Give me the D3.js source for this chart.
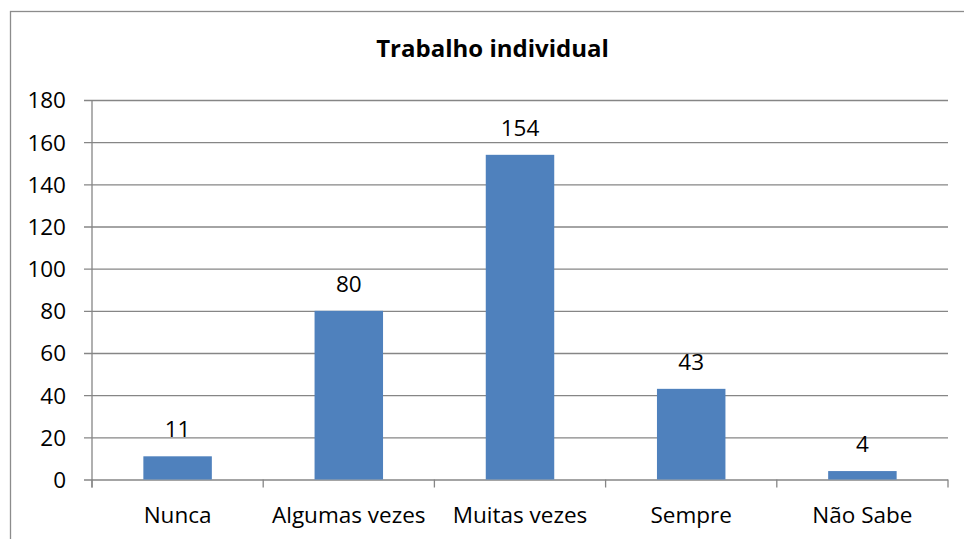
<!DOCTYPE html>
<html>
<head>
<meta charset="utf-8">
<script src="https://cdn.jsdelivr.net/npm/d3@7"></script>
<style>
  html, body { margin: 0; padding: 0; background: #fff; }
  svg { display: block; }
  text { font-family: "Open Sans", "Noto Sans", sans-serif; fill: #000; }
</style>
</head>
<body>
<svg id="chart" width="964" height="539"></svg>
<script>
// Survey answers for "Trabalho individual"
const categories = ["Nunca", "Algumas vezes", "Muitas vezes", "Sempre", "Não Sabe"];
const counts = [11, 80, 154, 43, 4];
const yTicks = [0, 20, 40, 60, 80, 100, 120, 140, 160, 180];
const title = "Trabalho individual";

const svg = d3.select("#chart");
const plot = { left: 92, right: 948, top: 100, bottom: 479.5 };
const FONT = 22.5;

// Outer chart frame
svg.append("rect")
  .attr("x", 10.5).attr("y", 11.5)
  .attr("width", 964).attr("height", 539)
  .attr("fill", "none").attr("stroke", "#8c8c8c").attr("stroke-width", 1.3);

svg.append("text")
  .attr("x", 492.5).attr("y", 57)
  .attr("text-anchor", "middle")
  .attr("font-weight", "bold")
  .attr("font-size", 24)
  .text(title);

const x = d3.scaleBand().domain(categories)
  .range([plot.left, plot.right]).paddingInner(0.6).paddingOuter(0.3);
const xBand = d3.scaleBand().domain(categories).range([plot.left, plot.right]);
const y = d3.scaleLinear().domain([0, 180]).range([plot.bottom, plot.top]);

// Horizontal gridlines with left tick marks
const yAxis = d3.axisLeft(y).tickValues(yTicks)
  .tickSize(-(plot.right - plot.left)).tickPadding(26).tickSizeOuter(0);
const gy = svg.append("g").attr("transform", `translate(${plot.left},0)`).call(yAxis);
gy.select(".domain").remove();
gy.selectAll(".tick line")
  .attr("x1", -8)
  .attr("stroke", "#868686").attr("stroke-width", 1.3);
gy.selectAll(".tick text").attr("font-size", FONT).attr("dy", "0.35em")
  .style("font-family", "'Open Sans', 'Noto Sans', sans-serif");

// Vertical axis line
svg.append("line")
  .attr("x1", plot.left).attr("x2", plot.left)
  .attr("y1", plot.top).attr("y2", plot.bottom + 8)
  .attr("stroke", "#868686").attr("stroke-width", 1.3);

// Category boundary ticks under the baseline
const bounds = categories.map(c => xBand(c)).concat([plot.right]);
svg.append("g").selectAll("line").data(bounds).join("line")
  .attr("x1", d => d).attr("x2", d => d)
  .attr("y1", plot.bottom).attr("y2", plot.bottom + 8)
  .attr("stroke", "#868686").attr("stroke-width", 1.3);

// Bars
svg.append("g").selectAll("rect").data(counts).join("rect")
  .attr("x", (d, i) => x(categories[i]))
  .attr("width", x.bandwidth())
  .attr("y", d => y(d))
  .attr("height", d => y(0) - y(d))
  .attr("fill", "#4F81BD");

// Value labels
svg.append("g").selectAll("text").data(counts).join("text")
  .attr("x", (d, i) => x(categories[i]) + x.bandwidth() / 2)
  .attr("y", d => y(d) - 19)
  .attr("text-anchor", "middle")
  .attr("font-size", FONT)
  .text(d => d);

// Category labels
svg.append("g").selectAll("text").data(categories).join("text")
  .attr("x", d => xBand(d) + xBand.bandwidth() / 2)
  .attr("y", 523)
  .attr("text-anchor", "middle")
  .attr("font-size", FONT)
  .text(d => d);
</script>
</body>
</html>
